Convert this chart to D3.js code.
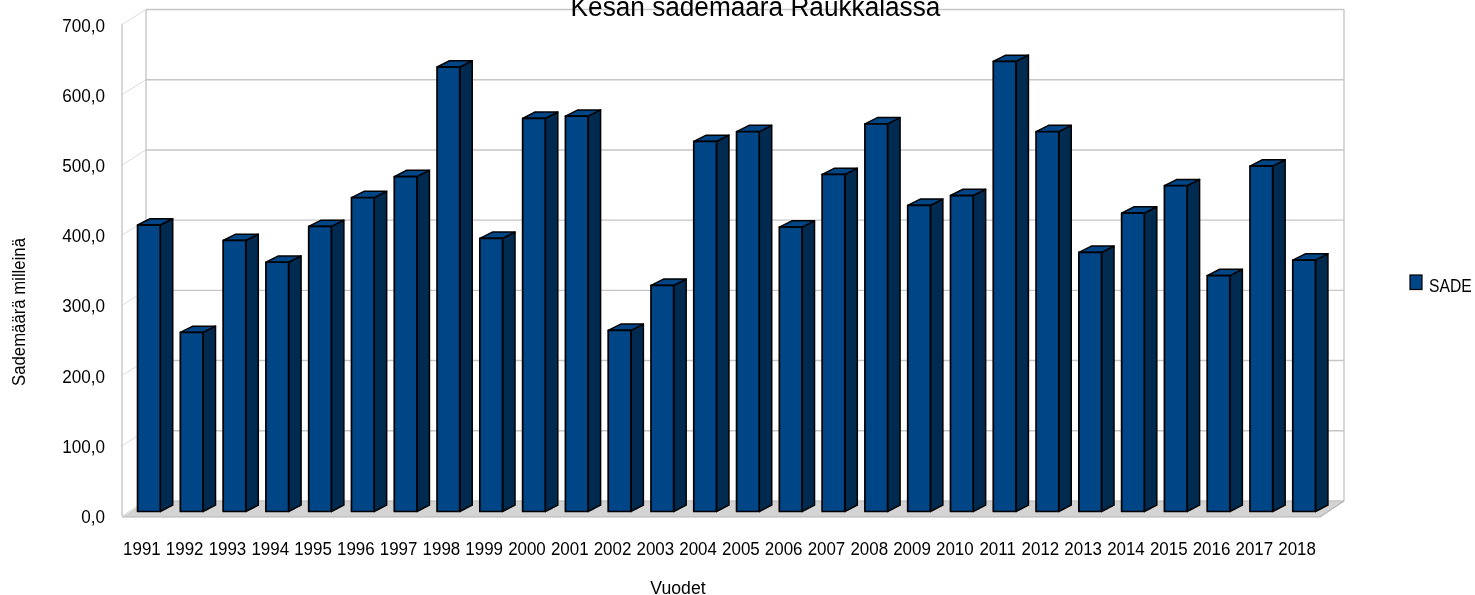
<!DOCTYPE html>
<html><head><meta charset="utf-8">
<script src="https://cdn.jsdelivr.net/npm/d3@7/dist/d3.min.js"></script>
<style>html,body{margin:0;background:#fff;overflow:hidden}svg{display:block;filter:blur(0.35px)}text{font-family:"Liberation Sans",Arial,sans-serif;fill:#000}</style>
</head><body><svg id="c" width="1475" height="595"></svg>
<script>
const years=[1991,1992,1993,1994,1995,1996,1997,1998,1999,2000,2001,2002,2003,2004,2005,2006,2007,2008,2009,2010,2011,2012,2013,2014,2015,2016,2017,2018];
const rain=[408,255,386,355,406,447,477,633,389,560,563,258,322,527,541,405,480,552,436,450,641,541,369,425,464,336,492,358];
const yTicks=[0,100,200,300,400,500,600,700];
const seriesName="SADE", titleText="Kesän sademäärä Raukkalassa", xTitle="Vuodet", yTitle="Sademäärä milleinä";
const svg=d3.select("#c");
const x=d3.scaleBand().domain(years).range([122,1320]).paddingInner(0.47).paddingOuter(0.235);
const y=d3.scaleLinear().domain([0,700]).range([516,24.5]);
const wall={dx:24,dy:-15}, bar={ox:5.5,oy:-4.5,dx:12.5,dy:-6.3};
const fmt=v=>d3.format(".1f")(v).replace(".",",");
const L=x.range()[0],R=x.range()[1];
const poly=(pts,f,s,w)=>svg.append("polygon").attr("points",pts.map(p=>p.join(",")).join(" ")).attr("fill",f).attr("stroke",s||"none").attr("stroke-width",w||0).attr("stroke-linejoin","round");
const seg=(pts,c,w)=>svg.append("path").attr("d",d3.line()(pts)).attr("stroke",c).attr("stroke-width",w).attr("fill","none");
const label=(sel,ratio)=>{const n=sel.node().getComputedTextLength();sel.attr("textLength",n*ratio).attr("lengthAdjust","spacingAndGlyphs");return sel;};
poly([[L,y(0)+1],[L+wall.dx,y(0)+wall.dy],[R+wall.dx,y(0)+wall.dy],[R,y(0)+1]],"#d4d4d4");
const grid="#c6c6c6", diag="#dcdcdc";
yTicks.forEach(t=>{
  seg([[L,y(t)],[L+wall.dx,y(t)+wall.dy]],diag,1);
  seg([[L+wall.dx,y(t)+wall.dy],[R+wall.dx,y(t)+wall.dy]],grid,1.4);
});
seg([[L,y(0)],[L,y(700)]],grid,1.4);
seg([[L+wall.dx,y(0)+wall.dy],[L+wall.dx,y(700)+wall.dy]],grid,1.4);
seg([[R+wall.dx,y(0)+wall.dy],[R+wall.dx,y(700)+wall.dy]],grid,1.4);
seg([[L,y(0)+1],[R,y(0)+1],[R+wall.dx,y(0)+wall.dy]],"#b4b4b4",1.2);
const frontFill="#004586", sideFill="#002a50", edge="#000000";
const bw=x.bandwidth(), baseY=y(0)+bar.oy;
const barScale=v=>y(v)+bar.oy;
years.forEach((yr,i)=>{
  const x0=x(yr)+bar.ox,x1=x0+bw,t=barScale(rain[i]);
  poly([[x1,t],[x1+bar.dx,t+bar.dy],[x1+bar.dx,baseY+bar.dy],[x1,baseY]],sideFill,edge,1.5);
  poly([[x0,t],[x0+bar.dx,t+bar.dy],[x1+bar.dx,t+bar.dy],[x1,t]],frontFill,edge,1.5);
  poly([[x0,t],[x1,t],[x1,baseY],[x0,baseY]],frontFill,edge,1.7);
});
yTicks.forEach(t=>label(svg.append("text").attr("x",105).attr("y",y(t)+7).attr("text-anchor","end").attr("font-size",18).text(fmt(t)),.95));
years.forEach(yr=>label(svg.append("text").attr("x",x(yr)+bw/2-1.5).attr("y",555).attr("text-anchor","middle").attr("font-size",18).text(yr),.94));
label(svg.append("text").attr("x",678).attr("y",594).attr("text-anchor","middle").attr("font-size",18).text(xTitle),.98);
label(svg.append("text").attr("transform","translate(25,312) rotate(-90)").attr("text-anchor","middle").attr("font-size",18).text(yTitle),.93);
label(svg.append("text").attr("x",755.5).attr("y",16).attr("text-anchor","middle").attr("font-size",27).text(titleText),.97);
svg.append("rect").attr("x",1410).attr("y",275).attr("width",12).attr("height",14.5).attr("fill",frontFill).attr("stroke",edge).attr("stroke-width",1.2);
label(svg.append("text").attr("x",1429).attr("y",291.5).attr("font-size",18).text(seriesName),.87);
</script></body></html>
